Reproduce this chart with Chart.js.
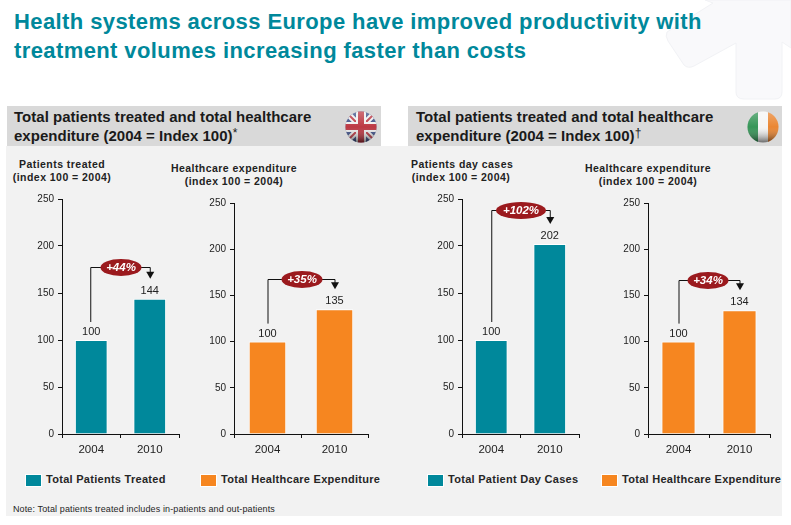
<!DOCTYPE html>
<html><head><meta charset="utf-8">
<script src="https://cdn.jsdelivr.net/npm/chart.js@4"></script>
<style>
html,body{margin:0;padding:0;background:#fff;width:791px;height:525px;overflow:hidden;font-family:"Liberation Sans",Arial,sans-serif}
.a{position:absolute;white-space:nowrap}
canvas{position:absolute}
.ttl{left:14px;top:7px;font-size:22px;line-height:29px;font-weight:bold;color:#00889b;letter-spacing:.4px}
.hdr{background:#d9d9d9;top:106px;height:40px}
.hdrt{top:108px;font-size:15px;line-height:18.5px;font-weight:bold;color:#1a1a1a;letter-spacing:.02px}
sup{font-size:12px;font-weight:normal;line-height:0;vertical-align:4px;letter-spacing:0}
.sub{font-size:10.5px;line-height:12.5px;font-weight:bold;color:#222;text-align:center;letter-spacing:.46px}
.sw{width:15px;height:11px;border:1px solid #fff;top:474px}
.leg{top:472px;font-size:11px;line-height:15px;font-weight:bold;color:#262626;letter-spacing:.28px}
.note{left:13px;top:503px;font-size:9px;line-height:12px;color:#262626;letter-spacing:.12px}
</style></head><body>
<svg class="a" style="left:0;top:0" width="791" height="110">
<path d="M705 0 L713 3 L667 32 Q665 36 668 41 L684 65 Q688 69 694 66 L736 43 L736 92 Q736 99 744 99 L775 99 Q782 99 782 92 L782 42 L791 48 L791 0 Z" fill="#f9f9fb" stroke="#f1f2f5" stroke-width="1"/>
</svg>
<div class="a" style="left:6px;top:146px;width:776px;height:370px;background:#f2f2f2"></div>
<div class="a hdr" style="left:7px;width:374px"></div>
<div class="a hdr" style="left:408px;width:374px"></div>
<div class="a ttl">Health systems across Europe have improved productivity with<br>treatment volumes increasing faster than costs</div>
<div class="a hdrt" style="left:14px">Total patients treated and total healthcare<br>expenditure (2004 = Index 100)<sup>*</sup></div>
<div class="a hdrt" style="left:416px">Total patients treated and total healthcare<br>expenditure (2004 = Index 100)<sup>†</sup></div>

<svg class="a" style="left:345px;top:111px" width="32" height="32" viewBox="0 0 32 32">
<defs>
<clipPath id="c1"><circle cx="16" cy="16" r="15.5"/></clipPath>
<linearGradient id="g" x1="0" y1="0" x2="0" y2="1"><stop offset="0" stop-color="#fff" stop-opacity=".35"/><stop offset=".5" stop-color="#fff" stop-opacity=".1"/><stop offset="1" stop-color="#000" stop-opacity=".6"/></linearGradient>
</defs>
<g clip-path="url(#c1)"><rect width="32" height="32" fill="#2b3f7d"/>
<path d="M0 0L32 32M32 0L0 32" stroke="#eee" stroke-width="6"/>
<path d="M0 0L32 32M32 0L0 32" stroke="#b5232f" stroke-width="2"/>
<path d="M16 0V32M0 16H32" stroke="#eee" stroke-width="10"/>
<path d="M16 0V32M0 16H32" stroke="#b5232f" stroke-width="6"/>
<rect width="32" height="32" fill="url(#g)"/></g></svg>
<svg class="a" style="left:747px;top:111px" width="32" height="32" viewBox="0 0 32 32">
<defs><clipPath id="c2"><circle cx="16" cy="16" r="15.5"/></clipPath></defs>
<g clip-path="url(#c2)"><rect width="11" height="32" fill="#1f8a45"/><rect x="11" width="10" height="32" fill="#f4f4f4"/><rect x="21" width="11" height="32" fill="#e8791c"/>
<rect width="32" height="32" fill="url(#g)"/></g></svg>

<div class="a sub" style="left:12px;top:158px;width:100px">Patients treated<br>(index 100 = 2004)</div>
<div class="a sub" style="left:164px;top:162px;width:140px">Healthcare expenditure<br>(index 100 = 2004)</div>
<div class="a sub" style="left:411px;top:158px;width:100px">Patients day cases<br>(index 100 = 2004)</div>
<div class="a sub" style="left:578px;top:162px;width:140px">Healthcare expenditure<br>(index 100 = 2004)</div>

<canvas id="c1c"></canvas><canvas id="c2c"></canvas><canvas id="c3c"></canvas><canvas id="c4c"></canvas>

<div class="a sw" style="left:25px;background:#00889b"></div>
<div class="a leg" style="left:46px">Total Patients Treated</div>
<div class="a sw" style="left:200px;background:#f68620"></div>
<div class="a leg" style="left:221px">Total Healthcare Expenditure</div>
<div class="a sw" style="left:427px;background:#00889b"></div>
<div class="a leg" style="left:448px">Total Patient Day Cases</div>
<div class="a sw" style="left:601px;background:#f68620"></div>
<div class="a leg" style="left:622px">Total Healthcare Expenditure</div>
<div class="a note">Note: Total patients treated includes in-patients and out-patients</div>

<script>
const categories = ["2004", "2010"];
const patientsUK = [100, 144];
const spendUK = [100, 135];
const dayCasesIE = [100, 202];
const spendIE = [100, 134];
const growthLabels = ["+44%", "+35%", "+102%", "+34%"];
const bracketLevels = [178, 168, 238, 167];
const yTicks = [0, 50, 100, 150, 200, 250];
const TEAL = "#00889b", ORANGE = "#f68620", PILL = "#9b1a1e";

const overlay = {
  id: "overlay",
  afterDatasetsDraw(chart, args, o) {
    const {ctx, scales: {x, y}} = chart;
    const d = chart.data.datasets[0].data;
    ctx.save();
    ctx.font = "11px 'Liberation Sans', Arial, sans-serif";
    ctx.fillStyle = "#222"; ctx.textAlign = "center"; ctx.textBaseline = "alphabetic";
    d.forEach((v, i) => ctx.fillText(String(v), x.getPixelForValue(i), y.getPixelForValue(v) - 5));
    const x0 = x.getPixelForValue(0) + o.dx0, x1 = x.getPixelForValue(1) + o.dx1;
    const yTop = Math.round(y.getPixelForValue(o.level)) + .5;
    const yBot = y.getPixelForValue(d[0]) - 18;
    const yEnd = y.getPixelForValue(d[1]) - 20;
    ctx.strokeStyle = "#111"; ctx.lineWidth = 1;
    ctx.beginPath();
    ctx.moveTo(x0 + .5, yBot); ctx.lineTo(x0 + .5, yTop); ctx.lineTo(x1 + .5, yTop); ctx.lineTo(x1 + .5, yEnd - 5);
    ctx.stroke();
    ctx.fillStyle = "#111";
    ctx.beginPath(); ctx.moveTo(x1 - 3.5, yEnd - 7); ctx.lineTo(x1 + 4.5, yEnd - 7); ctx.lineTo(x1 + .5, yEnd); ctx.closePath(); ctx.fill();
    const cx = o.pillX, hw = o.pillW / 2;
    ctx.fillStyle = PILL;
    ctx.beginPath(); ctx.ellipse(cx, yTop, hw, 8.5, 0, 0, Math.PI * 2); ctx.fill();
    ctx.fillStyle = "#fff";
    ctx.font = "italic bold 11.5px 'Liberation Sans', Arial, sans-serif";
    ctx.textBaseline = "middle";
    ctx.fillText(o.label, cx, yTop + .5);
    ctx.restore();
  }
};

function draw(id, values, color, g, label, level) {
  const cv = document.getElementById(id);
  const left = g.axis - 42;
  const top = g.top - 8;
  cv.style.left = left + "px"; cv.style.top = top + "px";
  new Chart(cv, {
    type: "bar",
    data: {labels: categories, datasets: [{data: values, backgroundColor: color, borderColor: "#fff", borderWidth: 1, barPercentage: 1, categoryPercentage: g.bar}]},
    options: {
      responsive: false, animation: false, devicePixelRatio: 1,
      layout: {padding: {left: 0, right: 8, top: 8, bottom: 0}},
      plugins: {legend: {display: false}, tooltip: {enabled: false},
        overlay: {label, level, dx0: g.dx0, dx1: g.dx1, pillX: g.pillX - left, pillW: g.pillW}},
      scales: {
        x: {
          grid: {display: true, drawOnChartArea: false, color: "#111", tickLength: 4, offset: true, lineWidth: 1},
          border: {color: "#111", width: 1},
          ticks: {color: "#222", font: {size: 11.5, family: "'Liberation Sans', Arial, sans-serif"}, padding: 5, maxRotation: 0},
          afterFit(s) { s.height = 30; }
        },
        y: {
          min: 0, max: 250,
          afterBuildTicks(s) { s.ticks = yTicks.map(v => ({value: v})); },
          grid: {display: true, drawOnChartArea: false, color: "#111", tickLength: 4, lineWidth: 1},
          border: {color: "#111", width: 1},
          ticks: {color: "#222", font: {size: 10, family: "'Liberation Sans', Arial, sans-serif"}, padding: 4},
          afterFit(s) { s.width = 42; }
        }
      }
    },
    plugins: [overlay]
  });
}
const setup = [
  ["c1c", patientsUK, TEAL, {axis: 62, end: 179, top: 197, bar: .56, dx0: -1, dx1: 0, pillX: 121, pillW: 41}, 0],
  ["c2c", spendUK, ORANGE, {axis: 234, end: 368, top: 201, bar: .56, dx0: 0, dx1: 0, pillX: 302, pillW: 41}, 1],
  ["c3c", dayCasesIE, TEAL, {axis: 462, end: 579, top: 197, bar: .56, dx0: 0, dx1: 0, pillX: 521, pillW: 50}, 2],
  ["c4c", spendIE, ORANGE, {axis: 648, end: 770, top: 201, bar: .56, dx0: 0, dx1: 0, pillX: 708, pillW: 41}, 3]
];
setup.forEach(([id, vals, col, g, i]) => {
  const cv = document.getElementById(id);
  const left = g.axis - 42, w = g.end - left + 8, top = g.top - 8, h = 434 - top + 30;
  cv.width = w; cv.height = h; cv.style.width = w + "px"; cv.style.height = h + "px";
  draw(id, vals, col, g, growthLabels[i], bracketLevels[i]);
});
</script>
</body></html>
